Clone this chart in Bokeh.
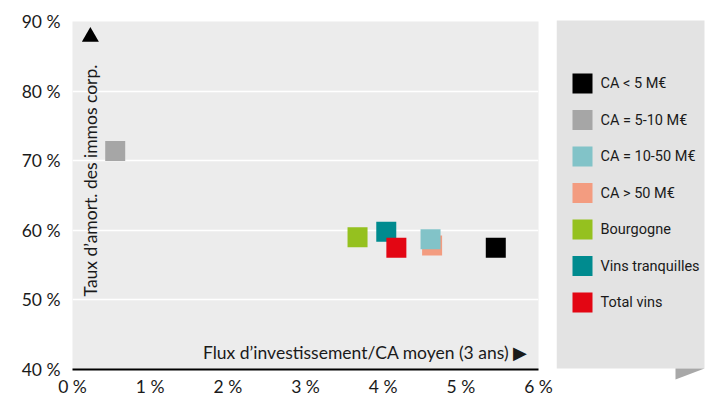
import math
from bokeh.plotting import figure
from bokeh.layouts import row
from bokeh.models import (Range1d, FixedTicker, PrintfTickFormatter, ColumnDataSource)
from bokeh.core.properties import value
from bokeh.embed import file_html
from bokeh.resources import INLINE

# ---- data ----
categories = ["CA < 5 M€", "CA = 5-10 M€", "CA = 10-50 M€", "CA > 50 M€",
              "Bourgogne", "Vins tranquilles", "Total vins"]
colors = ["#000000", "#a6a6a6", "#82c3c8", "#f39c80", "#95c11f", "#008b8f", "#e30613"]
flux_invest = [5.45, 0.55, 4.61, 4.63, 3.67, 4.04, 4.17]      # % (x)
taux_amort = [57.5, 71.4, 58.7, 57.8, 59.0, 59.8, 57.5]       # % (y)
draw_order = [0, 1, 3, 2, 4, 5, 6]
x_ticks = [0, 1, 2, 3, 4, 5, 6]
y_ticks = [40, 50, 60, 70, 80, 90]
x_title = "Flux d’investissement/CA moyen (3 ans) ▶"
y_title = "Taux d’amort. des immos corp."

TICK_FONT = "Lato"
LEG_FONT = "Roboto"
TXT = "#1a1a1a"

TOP, BOTTOM = 21, 32

# ---- main plot ----
p = figure(width=556, height=401, output_backend="svg", toolbar_location=None,
           x_range=Range1d(0, 6), y_range=Range1d(40, 90),
           min_border_left=72, min_border_right=18,
           min_border_top=TOP, min_border_bottom=BOTTOM)
p.background_fill_color = "#ececec"
p.border_fill_color = "white"
p.outline_line_color = None

for ax in (p.xaxis[0], p.yaxis[0]):
    ax.major_tick_line_color = None
    ax.minor_tick_line_color = None
    ax.major_tick_out = 0
    ax.major_tick_in = 0
    ax.minor_tick_out = 0
    ax.minor_tick_in = 0
    ax.major_label_text_font = TICK_FONT
    ax.major_label_text_font_size = "17.5px"
    ax.major_label_text_color = TXT
p.xaxis.ticker = FixedTicker(ticks=x_ticks)
p.yaxis.ticker = FixedTicker(ticks=y_ticks)
p.xaxis.formatter = PrintfTickFormatter(format="%d %%")
p.yaxis.formatter = PrintfTickFormatter(format="%d %%")
p.yaxis.axis_line_color = None
p.yaxis.major_label_standoff = 12
p.xaxis.axis_line_color = "#000000"
p.xaxis.axis_line_width = 2
p.xaxis.major_label_standoff = 6

p.xgrid.grid_line_color = None
p.ygrid.grid_line_color = "white"
p.ygrid.grid_line_width = 1.5

for i in draw_order:
    p.scatter(x=[flux_invest[i]], y=[taux_amort[i]], marker="square", size=20,
              fill_color=colors[i], line_color=None)

p.text(x=[5.86], y=[42.45], text=[x_title], text_align="right", text_baseline="middle",
       text_font=value(TICK_FONT), text_font_size="17.5px", text_color=TXT)
p.text(x=[0.23], y=[50.5], text=[y_title], angle=math.pi / 2, text_align="left",
       text_baseline="middle", text_font=value(TICK_FONT), text_font_size="17.5px",
       text_color=TXT)
p.scatter(x=[0.23], y=[87.8], marker="triangle", size=17, fill_color="#000000",
          line_color=None)

# ---- legend panel (y in pixels from the top of the page) ----
lg = figure(width=154, height=401, output_backend="svg", toolbar_location=None,
            x_range=Range1d(0, 154), y_range=Range1d(401, 0),
            min_border_left=0, min_border_right=0,
            min_border_top=0, min_border_bottom=0)
lg.frame_align = False
lg.axis.visible = False
lg.grid.visible = False
lg.outline_line_color = None
lg.background_fill_color = "white"
lg.border_fill_color = "white"

lg.quad(left=[0], right=[148], top=[20], bottom=[368], fill_color="#e3e3e3", line_color=None)
lg.patch(x=[119, 148, 119], y=[368, 368, 379], fill_color="#a8a8a8", line_color=None)

n = len(categories)
ys = [83 + 36.5 * k for k in range(n)]
src = ColumnDataSource(dict(x=[26] * n, tx=[44] * n, y=ys, c=colors, t=categories))
lg.scatter(x="x", y="y", source=src, marker="square", size=20, fill_color="c", line_color=None)
lg.text(x="tx", y="y", text="t", source=src, text_baseline="middle", text_align="left",
        text_font=value(LEG_FONT), text_font_size="14.5px", text_color=TXT)

layout = row(p, lg)
open("out.html", "w").write(file_html(layout, INLINE))
